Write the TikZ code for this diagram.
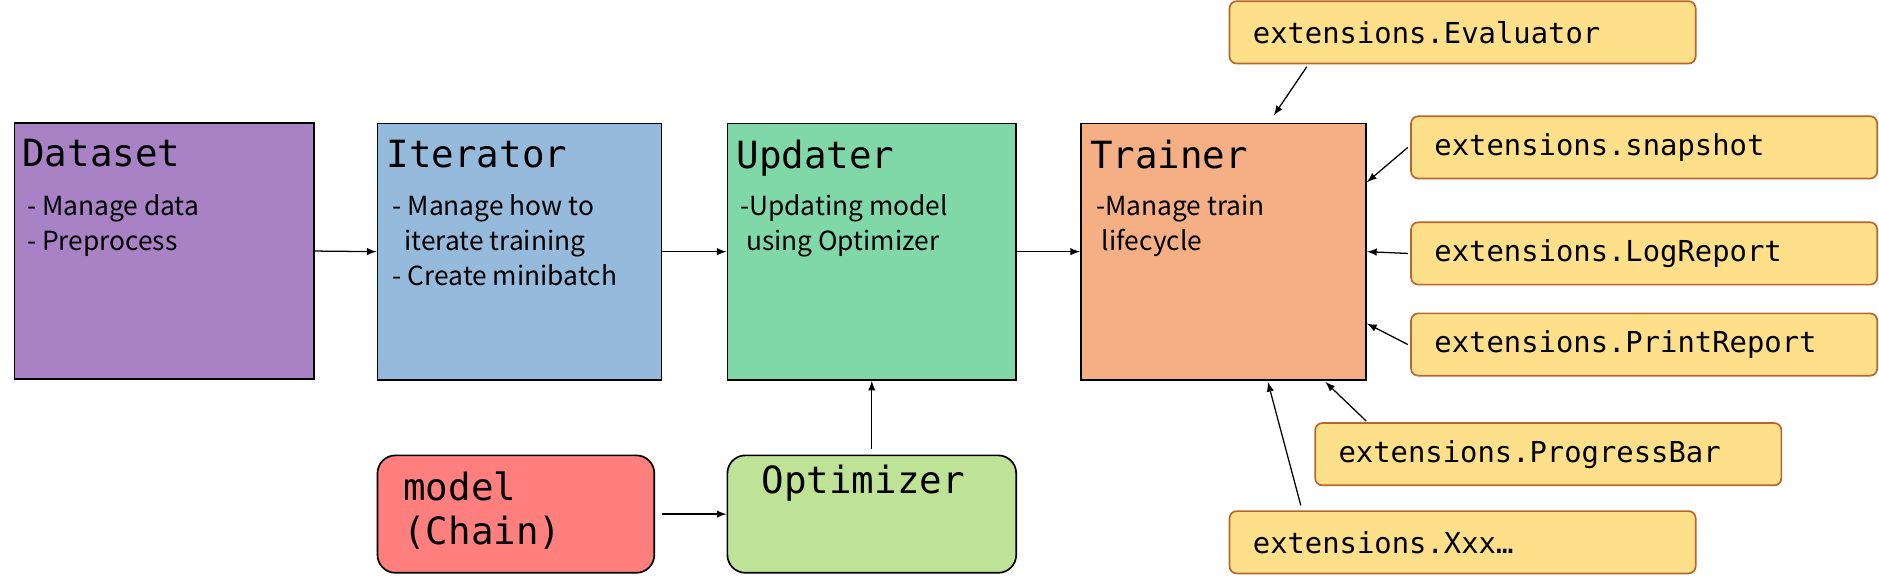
\documentclass[tikz,border=0pt]{standalone}
\usepackage{fontspec}
\setmainfont{Noto Sans CJK JP}
\setmonofont{DejaVu Sans Mono}
\usetikzlibrary{arrows}
\definecolor{cdataset}{HTML}{A882C4}
\definecolor{citer}{HTML}{96BADC}
\definecolor{cupd}{HTML}{80D8A8}
\definecolor{ctrain}{HTML}{F4B084}
\definecolor{cmodel}{HTML}{FF7F7F}
\definecolor{copt}{HTML}{BFE396}
\definecolor{cext}{HTML}{FFE08A}
\definecolor{cextb}{HTML}{B8672A}
\begin{document}
\begin{tikzpicture}
	% STYLES
	\tikzset{
		bloc/.style={draw=black, line width=0.8pt, minimum height=4.28cm, inner sep=0pt},
		rbloc/.style={draw=black, line width=0.8pt, rounded corners=0.3cm, minimum width=4.72cm, minimum height=1.96cm, inner sep=0pt},
		ext/.style={draw=cextb, fill=cext, line width=0.8pt, rounded corners=0.12cm, minimum height=1.04cm, text width=7.0cm, inner xsep=0.39cm, align=left, font=\ttfamily\fontsize{13.7}{16}\selectfont},
		titre/.style={anchor=north west, inner sep=0pt, font=\ttfamily\fontsize{17.8}{22}\selectfont},
		texte/.style={anchor=north west, inner sep=0pt, align=left, font=\fontsize{12.5}{16.5}\selectfont},
		fleche/.style={-latex, line width=0.6pt}
	}
	\useasboundingbox (0,0) rectangle (31.36,-9.64);

	% BLOCS
	\node[bloc, fill=cdataset, minimum width=5cm] (dataset) at (2.74,-4.19) {};
	\node[bloc, fill=citer, minimum width=4.74cm] (iterator) at (8.67,-4.2) {};
	\node[bloc, fill=cupd, minimum width=4.82cm] (updater) at (14.55,-4.2) {};
	\node[bloc, fill=ctrain, minimum width=4.76cm] (trainer) at (20.42,-4.2) {};
	\node[rbloc, fill=cmodel, minimum width=4.62cm] (model) at (8.61,-8.58) {};
	\node[rbloc, fill=copt, minimum width=4.82cm] (optimizer) at (14.55,-8.58) {};

	% TEXTES
	\node[titre] at ([xshift=0.14cm,yshift=-0.28cm]dataset.north west) {Dataset};
	\node[texte] at ([xshift=0.22cm,yshift=-1.2cm]dataset.north west) {- Manage data\\- Preprocess};
	\node[titre] at ([xshift=0.16cm,yshift=-0.28cm]iterator.north west) {Iterator};
	\node[texte] at ([xshift=0.26cm,yshift=-1.2cm]iterator.north west) {- Manage how to\\\ \ iterate training\\- Create minibatch};
	\node[titre] at ([xshift=0.16cm,yshift=-0.28cm]updater.north west) {Updater};
	\node[texte] at ([xshift=0.22cm,yshift=-1.2cm]updater.north west) {-Updating model\\\ using Optimizer};
	\node[titre] at ([xshift=0.16cm,yshift=-0.28cm]trainer.north west) {Trainer};
	\node[texte] at ([xshift=0.26cm,yshift=-1.2cm]trainer.north west) {-Manage train\\\ lifecycle};
	\node[titre, align=left, font=\ttfamily\fontsize{17.8}{21}\selectfont] at ([xshift=0.44cm,yshift=-0.28cm]model.north west) {model\\(Chain)};
	\node[titre] at ([xshift=0.58cm,yshift=-0.16cm]optimizer.north west) {Optimizer};

	% EXTENSIONS
	\node[ext] (evaluator) at (24.41,-0.54) {extensions.Evaluator};
	\node[ext] (snapshot) at (27.44,-2.46) {extensions.snapshot};
	\node[ext] (logreport) at (27.44,-4.23) {extensions.LogReport};
	\node[ext] (printreport) at (27.44,-5.75) {extensions.PrintReport};
	\node[ext] (progressbar) at (25.84,-7.58) {extensions.ProgressBar};
	\node[ext] (xxx) at (24.41,-9.05) {extensions.Xxx…};

	% FLECHES
	\draw[fleche] (dataset.east) -- (iterator.west);
	\draw[fleche] (iterator.east) -- (updater.west);
	\draw[fleche] (updater.east) -- (trainer.west);
	\draw[fleche] ([yshift=0.1cm]optimizer.north) -- (updater.south);
	\draw[fleche] ([xshift=0.12cm]model.east) -- (optimizer.west);
	\draw[fleche] ([xshift=-2.6cm,yshift=-0.04cm]evaluator.south) -- ([xshift=0.84cm,yshift=0.12cm]trainer.north);
	\draw[fleche] ([xshift=-0.04cm]snapshot.west) -- ([yshift=1.16cm]trainer.east);
	\draw[fleche] ([xshift=-0.04cm]logreport.west) -- (trainer.east);
	\draw[fleche] ([xshift=-0.04cm]printreport.west) -- ([yshift=-1.2cm]trainer.east);
	\draw[fleche] ([xshift=-3.04cm,yshift=0.02cm]progressbar.north) -- ([xshift=1.7cm,yshift=-0.02cm]trainer.south);
	\draw[fleche] ([xshift=-2.7cm,yshift=0.08cm]xxx.north) -- ([xshift=0.74cm,yshift=-0.02cm]trainer.south);
\end{tikzpicture}
\end{document}
